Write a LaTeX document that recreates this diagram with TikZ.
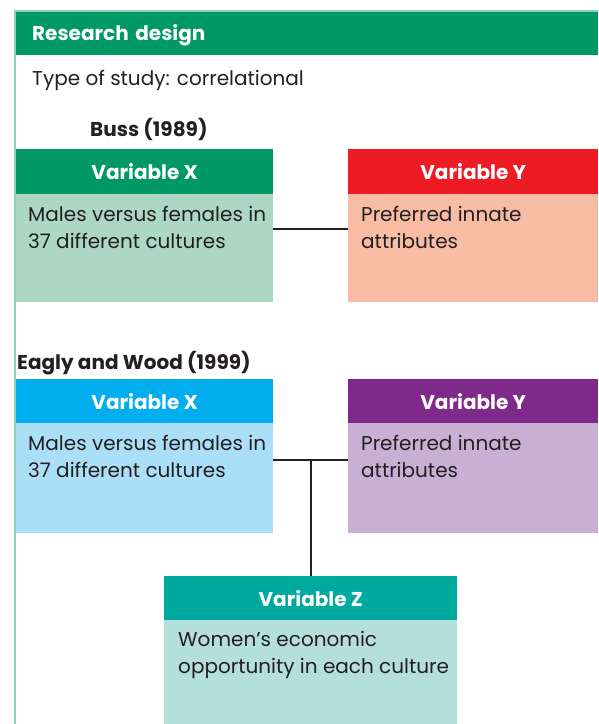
\documentclass[tikz,border=0pt]{standalone}
\usepackage{fontspec}
\setmainfont{Poppins}
\definecolor{designgreen}{HTML}{009966}
\definecolor{framegreen}{HTML}{8FD0B8}
\definecolor{bussxdark}{HTML}{009966}
\definecolor{bussxlight}{HTML}{ACD7C6}
\definecolor{bussydark}{HTML}{ED1C24}
\definecolor{bussylight}{HTML}{F8BCA5}
\definecolor{ewxdark}{HTML}{00AEEF}
\definecolor{ewxlight}{HTML}{ABDFF8}
\definecolor{ewydark}{HTML}{7F2A8B}
\definecolor{ewylight}{HTML}{C9AFD3}
\definecolor{ewzdark}{HTML}{00A99D}
\definecolor{ewzlight}{HTML}{B4DFDA}
\definecolor{ink}{HTML}{231F20}
\newcommand{\boxfont}{\fontsize{20}{27}\selectfont}
\begin{document}
\begin{tikzpicture}[x=1pt, y=-1pt]
            \tikzstyle{head} = [anchor=north west, inner sep=0pt, text=white, font=\boxfont\bfseries, minimum height=45pt]
            \tikzstyle{body} = [anchor=north west, inner sep=0pt, minimum height=108pt]
            \tikzstyle{bodytext} = [anchor=north west, inner sep=0pt, align=left, text=ink, font=\boxfont]
            \tikzstyle{link} = [draw=ink, line width=2.6pt]
            \useasboundingbox (0,0) rectangle (598,724);
            \draw[framegreen, line width=2pt] (15,724) -- (15,11) -- (598,11);
            \node[head, fill=designgreen, minimum height=43pt, text width=550pt, inner xsep=16pt, align=left, text depth=3pt] (design) at (16,12) {Research design};
            \node[bodytext, anchor=west] (studytype) at (32,80) {Type of study: correlational};
            % Buss
            \node[bodytext, anchor=west, font=\boxfont\bfseries] (buss) at (90,129) {Buss (1989)};
            \node[head, fill=bussxdark, minimum width=257pt] (bussX) at (16,149) {Variable X};
            \node[body, fill=bussxlight, minimum width=257pt] (bussXbody) at (16,194) {};
            \node[bodytext] (bussXtext) at (28,206) {Males versus females in\\37 different cultures};
            \node[head, fill=bussydark, minimum width=250pt] (bussY) at (348,149) {Variable Y};
            \node[body, fill=bussylight, minimum width=250pt] (bussYbody) at (348,194) {};
            \node[bodytext] (bussYtext) at (361,206) {Preferred innate\\attributes};
            \draw[link] ([yshift=-35pt]bussXbody.north east) -- ([yshift=-35pt]bussYbody.north west);
            % Eagly and Wood
            \node[bodytext, anchor=west, font=\boxfont\bfseries] (ew) at (17,363) {Eagly and Wood (1999)};
            \node[head, fill=ewxdark, minimum width=257pt, minimum height=44pt] (ewX) at (16,379) {Variable X};
            \node[body, fill=ewxlight, minimum width=257pt, minimum height=110pt] (ewXbody) at (16,423) {};
            \node[bodytext] (ewXtext) at (28,435) {Males versus females in\\37 different cultures};
            \node[head, fill=ewydark, minimum width=250pt, minimum height=44pt] (ewY) at (348,379) {Variable Y};
            \node[body, fill=ewylight, minimum width=250pt, minimum height=110pt] (ewYbody) at (348,423) {};
            \node[bodytext] (ewYtext) at (361,435) {Preferred innate\\attributes};
            \node[head, fill=ewzdark, minimum width=293pt, minimum height=44pt] (ewZ) at (164,576) {Variable Z};
            \node[body, fill=ewzlight, minimum width=293pt, minimum height=104pt] (ewZbody) at (164,620) {};
            \node[bodytext] (ewZtext) at (178,631) {Women’s economic\\opportunity in each culture};
            \coordinate (ewjoin) at (311,460);
            \draw[link] ([yshift=-37pt]ewXbody.north east) -- ([yshift=-37pt]ewYbody.north west);
            \draw[link] (ewjoin) -- (ewZ.north -| ewjoin);
        \end{tikzpicture}
\end{document}
